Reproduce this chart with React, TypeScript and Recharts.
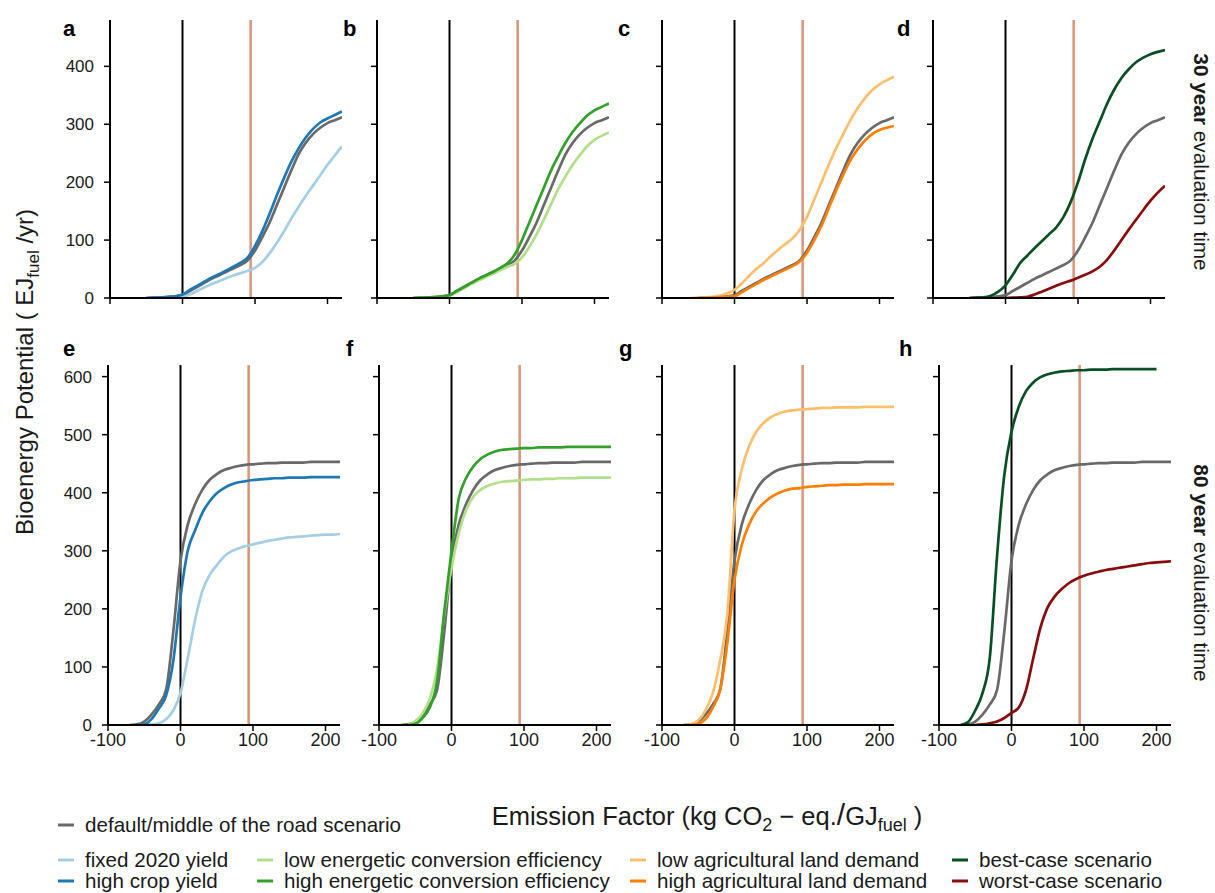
import React from "react";
import { LineChart, Line, XAxis, YAxis, ReferenceLine } from "recharts";

// Emission factor grid (kg CO2-eq./GJ fuel)
const EF = [
  -100, -90, -80, -70, -60, -50, -40, -30, -20, -10, 0, 10, 20, 30, 40, 50, 60,
  70, 80, 90, 100, 110, 120, 130, 140, 150, 160, 170, 180, 190, 200, 210, 220,
];
const X_TICKS = [-100, 0, 100, 200];
const Y_TICKS_30 = [0, 100, 200, 300, 400];
const Y_TICKS_80 = [0, 100, 200, 300, 400, 500, 600];
const FOSSIL_REF = 94;

const _ = null;

// 30 year evaluation time (EJ fuel / yr)
const default30 = [_, _, _, _, _, 0, 0.5, 1, 1.5, 3, 5, 12, 19, 26, 33, 39, 45, 51, 57, 65, 82, 105, 130, 160, 190, 220, 248, 268, 283, 294, 302, 307, 312];
const fixedYield30 = [_, _, _, _, _, 0, 0, 0.5, 1, 1.5, 2, 6, 12, 18, 24, 29, 34, 39, 43, 47, 52, 62, 77, 95, 115, 137, 157, 176, 194, 212, 230, 246, 262];
const highYield30 = [_, _, _, _, _, 0, 0.5, 1, 2, 3, 6, 14, 21, 28, 35, 41, 47, 54, 61, 70, 90, 115, 145, 177, 207, 235, 258, 277, 292, 303, 310, 316, 322];
const lowConv30 = [_, _, _, _, _, 0, 0.3, 0.8, 1.5, 2.5, 4, 10, 17, 24, 30, 36, 42, 48, 54, 59, 70, 88, 110, 135, 162, 188, 210, 230, 247, 262, 273, 280, 286];
const highConv30 = [_, _, _, _, _, 0, 0.5, 1, 1.5, 3, 5, 12, 19, 26, 33, 39, 45, 52, 60, 75, 100, 130, 160, 190, 220, 245, 268, 287, 302, 315, 324, 330, 336];
const lowLand30 = [_, _, _, _, 0, 0.5, 1, 2, 4, 8, 14, 25, 38, 50, 60, 72, 83, 93, 103, 118, 140, 170, 200, 230, 258, 283, 307, 328, 345, 359, 369, 376, 382];
const highLand30 = [_, _, _, _, _, 0, 0.3, 0.8, 1.5, 2.5, 3, 10, 17, 24, 31, 37, 43, 49, 55, 63, 78, 100, 125, 155, 185, 213, 238, 257, 272, 283, 290, 294, 297];
const best30 = [_, _, _, _, _, 0, 0.5, 1, 4, 11, 22, 40, 60, 73, 86, 98, 110, 122, 140, 166, 200, 240, 275, 305, 335, 360, 380, 395, 407, 415, 421, 425, 428];
const worst30 = [_, _, _, _, _, _, _, _, _, _, 0, 0.5, 1, 2, 6, 11, 16, 21, 26, 30, 35, 40, 46, 54, 66, 82, 100, 118, 135, 152, 168, 182, 194];

// 80 year evaluation time (EJ fuel / yr)
const default80 = [_, _, _, 0, 1, 6, 18, 35, 60, 160, 283, 345, 380, 405, 422, 432, 439, 443, 446, 448, 449, 450, 451, 451, 452, 452, 452, 452, 453, 453, 453, 453, 453];
const fixedYield80 = [_, _, _, _, _, 0, 1, 3, 10, 25, 55, 115, 180, 230, 258, 275, 290, 299, 304, 308, 311, 314, 317, 319, 321, 323, 324, 325, 326, 327, 328, 328, 329];
const highYield80 = [_, _, _, _, 0, 1, 10, 28, 50, 110, 220, 300, 335, 365, 385, 399, 408, 414, 418, 420, 422, 423, 424, 425, 425, 426, 426, 426, 427, 427, 427, 427, 427];
const lowConv80 = [_, _, _, _, 1, 6, 20, 45, 95, 190, 270, 330, 370, 393, 405, 412, 416, 419, 420, 421, 422, 423, 423, 424, 424, 425, 425, 425, 426, 426, 426, 426, 426];
const highConv80 = [_, _, _, _, 0, 2, 12, 30, 75, 195, 300, 390, 425, 445, 458, 466, 471, 474, 475, 476, 477, 477, 478, 478, 478, 478, 479, 479, 479, 479, 479, 479, 479];
const lowLand80 = [_, _, _, 0, 1, 8, 25, 55, 110, 190, 370, 440, 480, 505, 520, 530, 536, 540, 542, 543, 544, 545, 546, 546, 547, 547, 547, 547, 548, 548, 548, 548, 548];
const highLand80 = [_, _, _, _, 0, 2, 10, 30, 60, 140, 250, 310, 345, 368, 382, 392, 399, 404, 407, 408, 410, 411, 412, 413, 413, 414, 414, 414, 415, 415, 415, 415, 415];
const best80 = [_, _, _, 0, 5, 25, 55, 115, 290, 430, 505, 548, 575, 590, 599, 604, 607, 609, 610, 611, 611, 612, 612, 612, 613, 613, 613, 613, 613, 613, 613, _, _];
const worst80 = [_, _, _, _, _, 0, 1, 3, 6, 12, 21, 30, 60, 115, 168, 203, 222, 235, 245, 252, 257, 261, 264, 267, 269, 271, 273, 275, 277, 279, 280, 281, 282];

const COLORS = {
  def: "#696969",
  fixedYield: "#a6cee3",
  highYield: "#1f78b4",
  lowConv: "#b2df8a",
  highConv: "#33a02c",
  lowLand: "#fdbf6f",
  highLand: "#ff7f00",
  best: "#0a4f24",
  worst: "#880c0c",
  fossil: "#d8957a",
};

const FONT = "'Liberation Sans', Arial, Helvetica, sans-serif";

const rows30 = EF.map((x, i) => ({
  x,
  def: default30[i],
  fixedYield: fixedYield30[i],
  highYield: highYield30[i],
  lowConv: lowConv30[i],
  highConv: highConv30[i],
  lowLand: lowLand30[i],
  highLand: highLand30[i],
  best: best30[i],
  worst: worst30[i],
}));

const rows80 = EF.map((x, i) => ({
  x,
  def: default80[i],
  fixedYield: fixedYield80[i],
  highYield: highYield80[i],
  lowConv: lowConv80[i],
  highConv: highConv80[i],
  lowLand: lowLand80[i],
  highLand: highLand80[i],
  best: best80[i],
  worst: worst80[i],
}));

const GROUPS: (keyof typeof COLORS)[][] = [
  ["def", "fixedYield", "highYield"],
  ["def", "lowConv", "highConv"],
  ["def", "lowLand", "highLand"],
  ["def", "best", "worst"],
];

const PLOT_W = 232;
const Y_AXIS_W = 50;
const X_AXIS_H = 34;
const RIGHT_PAD = 6;

const TOP_ROW = { top: 20, height: 278, yMax: 480, ticks: Y_TICKS_30, rows: rows30, lefts: [110, 377, 662, 933] };
const BOTTOM_ROW = { top: 365, height: 360, yMax: 620, ticks: Y_TICKS_80, rows: rows80, lefts: [108, 379, 662, 939] };

const emptyTick = () => <g />;

const xTickLabel = (props: any) => (
  <text x={props.x} y={props.y} dy="0.72em" textAnchor="middle" fontSize={18} fontFamily={FONT} fill="#1a1a1a">
    {props.payload.value}
  </text>
);

const yTickLabel = (props: any) => (
  <text x={props.x - 8} y={props.y} dy="0.36em" textAnchor="end" fontSize={17} fontFamily={FONT} fill="#1a1a1a">
    {props.payload.value}
  </text>
);

type PanelProps = {
  left: number;
  row: typeof TOP_ROW;
  keys: (keyof typeof COLORS)[];
  yLabels: boolean;
  xLabels: boolean;
};

function Panel({ left, row, keys, yLabels, xLabels }: PanelProps) {
  return (
    <div style={{ position: "absolute", left: left - Y_AXIS_W, top: row.top }}>
      <LineChart
        width={Y_AXIS_W + PLOT_W + RIGHT_PAD}
        height={row.height + X_AXIS_H}
        data={row.rows}
        margin={{ top: 0, right: RIGHT_PAD, bottom: 0, left: 0 }}
      >
        <XAxis
          type="number"
          dataKey="x"
          domain={[-100, 220]}
          ticks={X_TICKS}
          interval={0}
          allowDataOverflow
          height={X_AXIS_H}
          axisLine={{ stroke: "#000", strokeWidth: 2 }}
          tickLine={{ stroke: "#000", strokeWidth: 1.5 }}
          tickSize={6}
          tick={xLabels ? xTickLabel : emptyTick}
        />
        <YAxis
          type="number"
          domain={[0, row.yMax]}
          ticks={row.ticks}
          interval={0}
          allowDataOverflow
          width={Y_AXIS_W}
          axisLine={{ stroke: "#000", strokeWidth: 2 }}
          tickLine={{ stroke: "#000", strokeWidth: 1.5 }}
          tickSize={6}
          tick={yLabels ? yTickLabel : emptyTick}
        />
        <ReferenceLine x={0} stroke="#000" strokeWidth={2} />
        <ReferenceLine x={FOSSIL_REF} stroke={COLORS.fossil} strokeWidth={2.5} />
        {keys.map((k) => (
          <Line
            key={k}
            type="monotone"
            dataKey={k}
            stroke={COLORS[k]}
            strokeWidth={2.7}
            dot={false}
            activeDot={false}
            isAnimationActive={false}
          />
        ))}
      </LineChart>
    </div>
  );
}

const LETTERS_TOP = [
  { t: "a", x: 63 },
  { t: "b", x: 343 },
  { t: "c", x: 618 },
  { t: "d", x: 897 },
];
const LETTERS_BOTTOM = [
  { t: "e", x: 63 },
  { t: "f", x: 346 },
  { t: "g", x: 619 },
  { t: "h", x: 899 },
];

const LEGEND_ROW1 = [{ key: "def", label: "default/middle of the road scenario", x: 58, y: 832 }];
const LEGEND_COLS = [58, 257, 630, 952];
const LEGEND_LABELS: [keyof typeof COLORS, string][][] = [
  [["fixedYield", "fixed 2020 yield"], ["highYield", "high crop yield"]],
  [["lowConv", "low energetic conversion efficiency"], ["highConv", "high energetic conversion efficiency"]],
  [["lowLand", "low agricultural land demand"], ["highLand", "high agricultural land demand"]],
  [["best", "best-case scenario"], ["worst", "worst-case scenario"]],
];

function LegendItem({ x, y, color, label }: { x: number; y: number; color: string; label: string }) {
  return (
    <g>
      <line x1={x} x2={x + 16} y1={y - 7} y2={y - 7} stroke={color} strokeWidth={3} />
      <text x={x + 27} y={y} fontSize={20.6} fontFamily={FONT} fill="#1a1a1a">
        {label}
      </text>
    </g>
  );
}

function Annotations() {
  return (
    <svg
      width={1215}
      height={893}
      style={{ position: "absolute", left: 0, top: 0, pointerEvents: "none" }}
    >
      {LETTERS_TOP.map((l) => (
        <text key={l.t} x={l.x} y={36} fontSize={22} fontWeight="bold" fontFamily={FONT} fill="#000">
          {l.t}
        </text>
      ))}
      {LETTERS_BOTTOM.map((l) => (
        <text key={l.t} x={l.x} y={356} fontSize={22} fontWeight="bold" fontFamily={FONT} fill="#000">
          {l.t}
        </text>
      ))}

      {/* y axis title */}
      <text transform="translate(33,372) rotate(-90)" textAnchor="middle" fontSize={24} fontFamily={FONT} fill="#1a1a1a">
        Bioenergy Potential ( EJ
        <tspan fontSize={17} dy={6}>fuel</tspan>
        <tspan dy={-6}> /yr)</tspan>
      </text>

      {/* x axis title */}
      <text x={707} y={825} textAnchor="middle" fontSize={25.5} fontFamily={FONT} fill="#1a1a1a">
        Emission Factor (kg CO
        <tspan fontSize={18} dy={6}>2</tspan>
        <tspan dy={-6}> − eq.</tspan>
        <tspan fontSize={30}>/</tspan>
        <tspan>GJ</tspan>
        <tspan fontSize={18} dy={6}>fuel</tspan>
        <tspan dy={-6}> )</tspan>
      </text>

      {/* evaluation time labels */}
      <text transform="translate(1194,162) rotate(90)" textAnchor="middle" fontSize={20.8} fontFamily={FONT} fill="#1a1a1a">
        <tspan fontWeight="bold">30 year</tspan> evaluation time
      </text>
      <text transform="translate(1194,573) rotate(90)" textAnchor="middle" fontSize={20.8} fontFamily={FONT} fill="#1a1a1a">
        <tspan fontWeight="bold">80 year</tspan> evaluation time
      </text>

      {/* legend */}
      {LEGEND_ROW1.map((it) => (
        <LegendItem key={it.key} x={it.x} y={it.y} color={COLORS.def} label={it.label} />
      ))}
      {LEGEND_LABELS.map((col, ci) =>
        col.map(([k, label], ri) => (
          <LegendItem key={k} x={LEGEND_COLS[ci]} y={867 + ri * 21} color={COLORS[k]} label={label} />
        ))
      )}
    </svg>
  );
}

export default function App() {
  return (
    <div style={{ position: "absolute", left: 0, top: 0, width: 1215, height: 893, background: "#fff" }}>
      {TOP_ROW.lefts.map((left, i) => (
        <Panel key={"t" + i} left={left} row={TOP_ROW} keys={GROUPS[i]} yLabels={i === 0} xLabels={false} />
      ))}
      {BOTTOM_ROW.lefts.map((left, i) => (
        <Panel key={"b" + i} left={left} row={BOTTOM_ROW} keys={GROUPS[i]} yLabels={i === 0} xLabels={true} />
      ))}
      <Annotations />
    </div>
  );
}
